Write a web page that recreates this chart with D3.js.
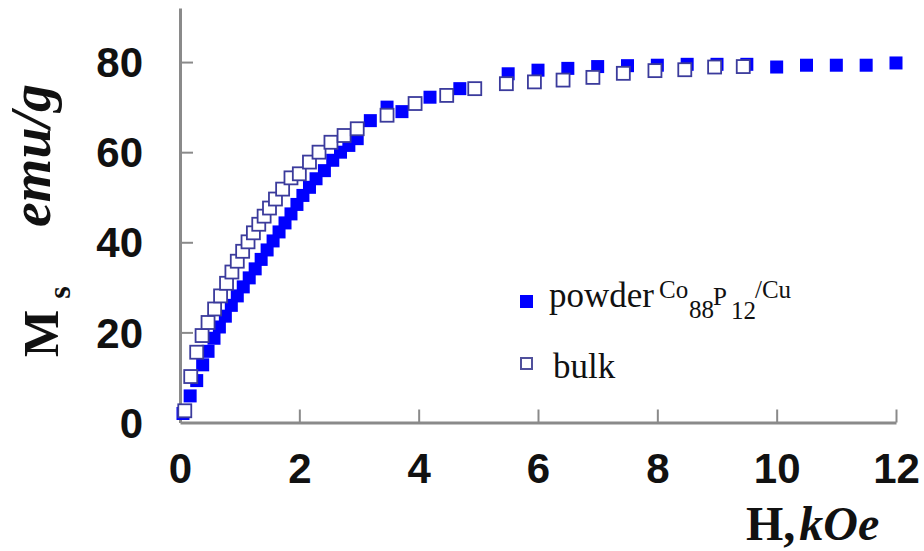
<!DOCTYPE html>
<html lang="en">
<head>
  <meta charset="utf-8">
  <script src="https://d3js.org/d3.v7.min.js"></script>
  <style>
    body { margin: 0; background: #fff; }
    .axis path, .axis line { stroke: #8a8a8a; }
    .axis path { stroke-width: 3px; }
    .axis line { stroke-width: 2px; }
    .axis text {
      font-family: "Liberation Sans", Arial, sans-serif;
      font-size: 42px;
      font-weight: bold;
      fill: #111;
    }
    .serif { font-family: "Liberation Serif", "Times New Roman", serif; fill: #111; }
  </style>
</head>
<body>
<script>
// field H (kOe) and magnetisation Ms (emu/g)
const hPowder = [0.05, 0.17, 0.28, 0.38, 0.47, 0.57, 0.66, 0.76, 0.86, 0.96, 1.06, 1.16, 1.26, 1.36,
  1.46, 1.56, 1.66, 1.76, 1.86, 1.96, 2.06, 2.17, 2.28, 2.42, 2.56, 2.69, 2.83, 2.97, 3.19, 3.47,
  3.72, 4.19, 4.69, 5.5, 6.0, 6.5, 7.0, 7.5, 8.0, 8.5, 9.0, 9.5, 10.0, 10.5, 11.0, 11.5, 12.0];
const msPowder = [2.0, 5.9, 9.3, 12.8, 15.8, 18.7, 21.2, 23.6, 26.0, 28.1, 30.1, 32.1, 34.1, 36.2,
  38.3, 40.3, 42.3, 44.3, 46.3, 48.4, 50.4, 52.2, 54.1, 55.9, 58.2, 60.0, 61.5, 63.0, 67.0, 70.0,
  69.0, 72.2, 74.1, 77.4, 78.2, 78.6, 79.0, 79.2, 79.3, 79.5, 79.5, 79.5, 78.9, 79.3, 79.3, 79.3, 79.8];

const hBulk = [0.08, 0.18, 0.28, 0.37, 0.47, 0.58, 0.68, 0.78, 0.87, 0.96, 1.05, 1.14, 1.23, 1.32,
  1.41, 1.5, 1.6, 1.72, 1.86, 2.0, 2.17, 2.33, 2.53, 2.75, 2.97, 3.47, 3.94, 4.47, 4.94, 5.47,
  5.94, 6.42, 6.92, 7.43, 7.96, 8.46, 8.96, 9.44];
const msBulk = [2.6, 10.2, 15.6, 19.3, 22.2, 25.2, 28.1, 30.9, 33.4, 35.8, 38.0, 40.1, 42.1, 44.0,
  45.8, 47.6, 49.6, 51.8, 54.3, 55.2, 57.8, 60.0, 62.2, 63.7, 65.2, 68.2, 70.8, 72.6, 74.1, 75.2,
  75.6, 76.0, 76.6, 77.5, 78.1, 78.3, 78.9, 79.0];

const xTicks = [0, 2, 4, 6, 8, 10, 12];
const yTicks = [0, 20, 40, 60, 80];

const width = 924, height = 551;

const svg = d3.select("body")
  .append("svg")
  .attr("width", width)
  .attr("height", height);

const x = d3.scaleLinear().domain([0, 12]).range([180, 896]);
const y = d3.scaleLinear().domain([0, 92]).range([422.5, 8]);

// x axis, ticks pointing inward
const gx = svg.append("g")
  .attr("class", "axis")
  .attr("transform", "translate(0," + y(0) + ")")
  .call(d3.axisBottom(x).tickValues(xTicks).tickSizeInner(-13).tickSizeOuter(0));
gx.selectAll(".tick text").attr("y", 60).attr("dy", null);
gx.selectAll(".tick").filter(d => d === 0).select("line").remove();

// y axis
const gy = svg.append("g")
  .attr("class", "axis")
  .attr("transform", "translate(" + x(0) + ",0)")
  .call(d3.axisLeft(y).tickValues(yTicks).tickSizeInner(-13).tickSizeOuter(0));
gy.selectAll(".tick text").attr("x", -37).attr("dy", "0.35em");
gy.selectAll(".tick").filter(d => d === 0).select("line").remove();

const powder = hPowder.map((h, i) => ({ h: h, m: msPowder[i] }));
const bulk = hBulk.map((h, i) => ({ h: h, m: msBulk[i] }));

// filled squares first, open squares on top
svg.append("g").selectAll("rect")
  .data(powder)
  .join("rect")
  .attr("x", d => x(d.h) - 6.5)
  .attr("y", d => y(d.m) - 6.5)
  .attr("width", 13)
  .attr("height", 13)
  .attr("fill", "#0000ff");

svg.append("g").selectAll("rect")
  .data(bulk)
  .join("rect")
  .attr("x", d => x(d.h) - 6.5)
  .attr("y", d => y(d.m) - 6.5)
  .attr("width", 13)
  .attr("height", 13)
  .attr("fill", "#fff")
  .attr("stroke", "#3b3b9c")
  .attr("stroke-width", 1.8);

// legend
svg.append("rect")
  .attr("x", 520).attr("y", 295).attr("width", 13).attr("height", 13)
  .attr("fill", "#0000ff");
svg.append("rect")
  .attr("x", 521).attr("y", 358).attr("width", 11).attr("height", 11)
  .attr("fill", "#fff").attr("stroke", "#50509c").attr("stroke-width", 2);

const lg = svg.append("text")
  .attr("class", "serif")
  .attr("x", 549)
  .attr("y", 307)
  .style("font-size", "35px");
lg.append("tspan").text("powder");
lg.append("tspan").attr("x", 659).attr("y", 298).style("font-size", "25px").text("Co");
lg.append("tspan").attr("x", 689).attr("y", 318).style("font-size", "25px").text("88");
lg.append("tspan").attr("x", 713).attr("y", 305).style("font-size", "25px").text("P");
lg.append("tspan").attr("x", 731).attr("y", 319).style("font-size", "25px").text("12");
lg.append("tspan").attr("x", 755).attr("y", 298).style("font-size", "25px").text("/Cu");

svg.append("text")
  .attr("class", "serif")
  .attr("x", 553)
  .attr("y", 378)
  .style("font-size", "35px")
  .text("bulk");

// axis titles
const xt = svg.append("text")
  .attr("class", "serif")
  .attr("x", 746)
  .attr("y", 540)
  .style("font-size", "48px")
  .style("font-weight", "bold");
xt.append("tspan").text("H,");
xt.append("tspan").attr("dx", 4).style("font-style", "italic").text("kOe");

const ms = svg.append("text")
  .attr("class", "serif")
  .attr("transform", "translate(58,357) rotate(-90)")
  .style("font-size", "50px")
  .style("font-weight", "bold");
ms.append("tspan").text("M");
ms.append("tspan").attr("dx", 11).attr("dy", 12).style("font-size", "32px").text("s");

svg.append("text")
  .attr("class", "serif")
  .attr("transform", "translate(50,227) rotate(-90)")
  .style("font-size", "56px")
  .style("font-weight", "bold")
  .style("font-style", "italic")
  .text("emu/g");
</script>
</body>
</html>
